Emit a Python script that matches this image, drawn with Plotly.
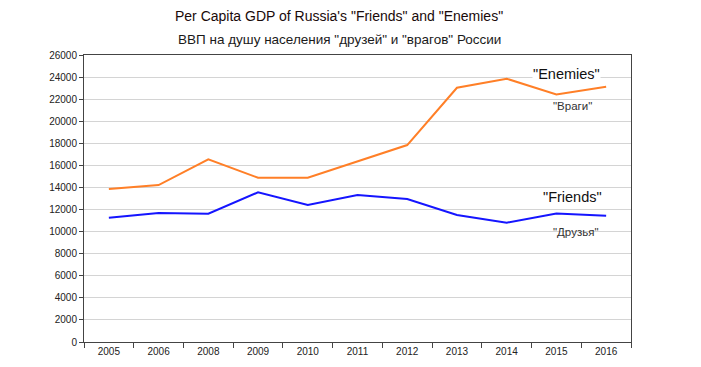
import plotly.graph_objects as go

years = ["2005", "2006", "2008", "2009", "2010", "2011", "2012", "2013", "2014", "2015", "2016"]
enemies = [13860, 14220, 16550, 14880, 14880, 16330, 17840, 23030, 23850, 22430, 23120]
friends = [11260, 11680, 11620, 13560, 12410, 13320, 12950, 11500, 10810, 11650, 11440]
y_ticks = list(range(0, 26001, 2000))

# page body has an 8px margin; compensate so the plot lands where the reference has it
OFF = 8
W, H = 701 - 2 * OFF, 367 - 2 * OFF
PL, PR, PT, PB = 84, 631, 55, 342          # plot box in screen pixels
L, T = PL - OFF, PT - OFF
R, B = W - (PR - OFF), H - (PB - OFF)
pw = PR - PL
ph = PB - PT

def px(x):
    return (x - PL) / pw

def py(y):
    return (PB - y) / ph

fig = go.Figure()
fig.add_trace(go.Scatter(x=years, y=enemies, mode="lines",
                         line=dict(color="#ff7f27", width=2), name="Enemies"))
fig.add_trace(go.Scatter(x=years, y=friends, mode="lines",
                         line=dict(color="#1515ff", width=2), name="Friends"))

font = "Liberation Sans, Arial, sans-serif"
ann = [
    dict(text="Per Capita GDP of Russia's \"Friends\" and \"Enemies\"", x=px(339), y=py(16), size=14, color="#1a0a0a"),
    dict(text="ВВП на душу населения \"друзей\" и \"врагов\" России", x=px(339), y=py(39), size=13.5, color="#1a1a1a"),
    dict(text="\"Enemies\"", x=px(566), y=py(74), size=14.5, color="#111111", bg="white"),
    dict(text="\"Враги\"", x=px(572), y=py(106), size=11.5, color="#333333"),
    dict(text="\"Friends\"", x=px(572), y=py(197), size=14.5, color="#111111"),
    dict(text="\"Друзья\"", x=px(575), y=py(232), size=11.5, color="#333333"),
]
for a in ann:
    fig.add_annotation(text=a["text"], xref="paper", yref="paper", x=a["x"], y=a["y"],
                       xanchor="center", yanchor="middle", showarrow=False,
                       font=dict(family=font, size=a["size"], color=a["color"]),
                       bgcolor=a.get("bg", "rgba(0,0,0,0)"), borderpad=0)

fig.update_layout(
    width=W, height=H,
    margin=dict(l=L, r=R, t=T, b=B, autoexpand=False),
    paper_bgcolor="white", plot_bgcolor="white",
    showlegend=False,
    font=dict(family=font, size=10, color="#222222"),
)
fig.update_xaxes(type="category", categoryorder="array", categoryarray=years,
                 tickson="boundaries", ticks="outside", ticklen=5, tickcolor="#444444",
                 showline=True, linecolor="#444444", linewidth=1, mirror=True,
                 showgrid=False, tickfont=dict(size=10, color="#222222"),
                 range=[-0.5, len(years) - 0.5])
fig.update_yaxes(range=[0, 26000], tickvals=y_ticks, ticktext=[str(v) for v in y_ticks],
                 ticks="outside", ticklen=4, tickcolor="#444444",
                 showline=True, linecolor="#444444", linewidth=1, mirror=True,
                 showgrid=True, gridcolor="#d4d4d4", gridwidth=1,
                 zeroline=False, tickfont=dict(size=10, color="#222222"))

fig.write_html("out.html")
